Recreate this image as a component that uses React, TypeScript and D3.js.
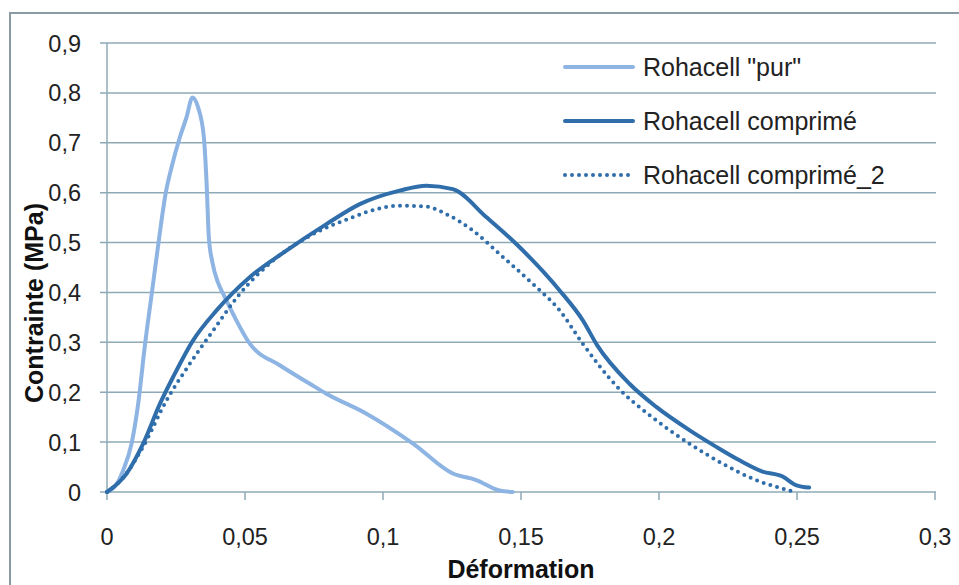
import React, { useEffect, useRef } from "react";
import * as d3 from "d3";

// Rohacell "pur"
const purStrain = [0, 0.004, 0.0059, 0.0089, 0.0113, 0.0138, 0.0162, 0.0186, 0.0199, 0.0213, 0.0234, 0.0264, 0.0288, 0.031, 0.033, 0.0351, 0.0361, 0.0369, 0.0382, 0.0402, 0.0421, 0.0445, 0.0518, 0.0626, 0.0735, 0.0795, 0.094, 0.1109, 0.1253, 0.1338, 0.1422, 0.147];
const purStress = [0, 0.02, 0.044, 0.097, 0.177, 0.297, 0.397, 0.497, 0.55, 0.6, 0.651, 0.711, 0.751, 0.791, 0.771, 0.711, 0.617, 0.51, 0.46, 0.42, 0.397, 0.37, 0.297, 0.254, 0.217, 0.197, 0.157, 0.097, 0.037, 0.024, 0.003, 0];

// Rohacell comprimé
const compStrain = [0, 0.0071, 0.0131, 0.0192, 0.024, 0.0312, 0.0397, 0.0518, 0.065, 0.0795, 0.0916, 0.106, 0.1157, 0.1253, 0.1374, 0.1483, 0.164, 0.1724, 0.1775, 0.1893, 0.1989, 0.211, 0.2206, 0.229, 0.2375, 0.2448, 0.2496, 0.2544];
const compStress = [0, 0.037, 0.097, 0.177, 0.231, 0.304, 0.364, 0.431, 0.484, 0.537, 0.577, 0.604, 0.614, 0.607, 0.551, 0.497, 0.404, 0.344, 0.295, 0.217, 0.171, 0.124, 0.091, 0.064, 0.041, 0.031, 0.014, 0.009];

// Rohacell comprimé_2
const comp2Strain = [0, 0.006, 0.0131, 0.0216, 0.03, 0.0385, 0.0481, 0.0602, 0.0747, 0.0891, 0.094, 0.106, 0.1157, 0.1229, 0.1326, 0.1422, 0.1543, 0.164, 0.1724, 0.1855, 0.1975, 0.211, 0.223, 0.2351, 0.2472, 0.249];
const comp2Stress = [0, 0.03, 0.091, 0.184, 0.257, 0.324, 0.397, 0.464, 0.517, 0.551, 0.561, 0.574, 0.572, 0.557, 0.524, 0.477, 0.417, 0.364, 0.297, 0.207, 0.15, 0.097, 0.057, 0.024, 0.003, 0];

const xTicks = [0, 0.05, 0.1, 0.15, 0.2, 0.25, 0.3];
const yTicks = [0, 0.1, 0.2, 0.3, 0.4, 0.5, 0.6, 0.7, 0.8, 0.9];
const seriesNames = ['Rohacell "pur"', "Rohacell comprimé", "Rohacell comprimé_2"];

const fmt = (v: number) => String(v).replace(".", ",");

export default function App() {
  const svgRef = useRef<SVGSVGElement>(null);

  useEffect(() => {
    const width = 959;
    const height = 585;
    const margin = { top: 43, right: 24, bottom: 93, left: 107 };
    const font = "'Liberation Sans', Arial, sans-serif";
    const gridColor = "#8eaab6";
    const light = "#8db4e2";
    const dark = "#2f6eaa";

    const svg = d3.select(svgRef.current);
    svg.selectAll("*").remove();
    svg.attr("viewBox", `0 0 ${width} ${height}`);

    svg.append("rect").attr("width", width).attr("height", height).attr("fill", "#fff");

    // outer frame (left + top visible)
    svg
      .append("path")
      .attr("d", `M10,${height} L10,13 L${width},13`)
      .attr("fill", "none")
      .attr("stroke", "#8a9ca2")
      .attr("stroke-width", 2);

    const x = d3.scaleLinear().domain([0, 0.3]).range([margin.left, width - margin.right]);
    const y = d3.scaleLinear().domain([0, 0.9]).range([height - margin.bottom, margin.top]);

    // horizontal gridlines + y ticks
    svg
      .append("g")
      .selectAll("line")
      .data(yTicks)
      .join("line")
      .attr("x1", x(0) - 7)
      .attr("x2", x(0.3) + 1)
      .attr("y1", (d) => y(d))
      .attr("y2", (d) => y(d))
      .attr("stroke", gridColor)
      .attr("stroke-width", 1.5);

    // y axis line
    svg
      .append("line")
      .attr("x1", x(0))
      .attr("x2", x(0))
      .attr("y1", y(0.9))
      .attr("y2", y(0))
      .attr("stroke", gridColor)
      .attr("stroke-width", 1.5);

    // x ticks
    svg
      .append("g")
      .selectAll("line")
      .data(xTicks)
      .join("line")
      .attr("x1", (d) => x(d))
      .attr("x2", (d) => x(d))
      .attr("y1", y(0))
      .attr("y2", y(0) + 8)
      .attr("stroke", gridColor)
      .attr("stroke-width", 1.5);

    svg
      .append("g")
      .selectAll("text")
      .data(yTicks)
      .join("text")
      .attr("x", 81)
      .attr("y", (d) => y(d) + 8.5)
      .attr("text-anchor", "end")
      .attr("font-family", font)
      .attr("font-size", 23.5)
      .attr("fill", "#222")
      .text((d) => fmt(d));

    svg
      .append("g")
      .selectAll("text")
      .data(xTicks)
      .join("text")
      .attr("x", (d) => x(d))
      .attr("y", 545)
      .attr("text-anchor", "middle")
      .attr("font-family", font)
      .attr("font-size", 23.5)
      .attr("fill", "#222")
      .text((d) => fmt(d));

    // axis titles
    svg
      .append("text")
      .attr("x", (x(0) + x(0.3)) / 2)
      .attr("y", 578)
      .attr("text-anchor", "middle")
      .attr("font-family", font)
      .attr("font-weight", "bold")
      .attr("font-size", 25)
      .attr("fill", "#111")
      .text("Déformation");

    svg
      .append("text")
      .attr("transform", "translate(43,303) rotate(-90)")
      .attr("text-anchor", "middle")
      .attr("font-family", font)
      .attr("font-weight", "bold")
      .attr("font-size", 25)
      .attr("fill", "#111")
      .text("Contrainte (MPa)");

    const line = d3
      .line<[number, number]>()
      .x((d) => x(d[0]))
      .y((d) => y(d[1]))
      .curve(d3.curveMonotoneX);

    const series = [
      { pts: d3.zip(purStrain, purStress), color: light, width: 4, dash: null },
      { pts: d3.zip(compStrain, compStress), color: dark, width: 4, dash: null },
      { pts: d3.zip(comp2Strain, comp2Stress), color: dark, width: 4, dash: "0 7" },
    ];

    series.forEach((s) => {
      svg
        .append("path")
        .datum(s.pts as [number, number][])
        .attr("d", line)
        .attr("fill", "none")
        .attr("stroke", s.color)
        .attr("stroke-width", s.width)
        .attr("stroke-linecap", "round")
        .attr("stroke-linejoin", "round")
        .attr("stroke-dasharray", s.dash);
    });

    // legend
    const legend = svg.append("g");
    series.forEach((s, i) => {
      const ly = 67 + i * 54;
      legend
        .append("line")
        .attr("x1", 565)
        .attr("x2", 633)
        .attr("y1", ly)
        .attr("y2", ly)
        .attr("stroke", s.color)
        .attr("stroke-width", s.width)
        .attr("stroke-linecap", "round")
        .attr("stroke-dasharray", s.dash);
      legend
        .append("text")
        .attr("x", 643)
        .attr("y", ly + 9)
        .attr("font-family", font)
        .attr("font-size", 25)
        .attr("fill", "#222")
        .text(seriesNames[i]);
    });
  }, []);

  return (
    <div style={{ position: "fixed", left: 0, top: 0 }}>
      <svg ref={svgRef} width={959} height={585} style={{ display: "block" }}></svg>
    </div>
  );
}
